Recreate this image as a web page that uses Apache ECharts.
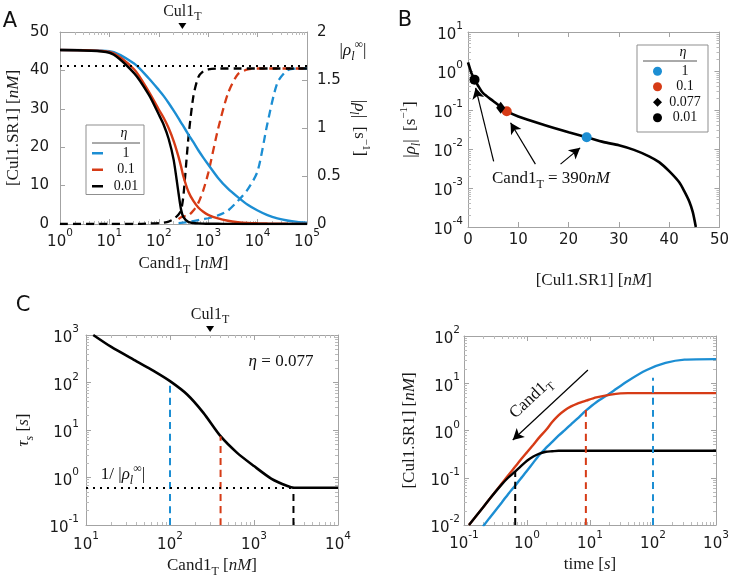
<!DOCTYPE html>
<html>
<head>
<meta charset="utf-8">
<script src="https://cdn.jsdelivr.net/npm/echarts@6.0.0/dist/echarts.min.js"></script>
<style>
  html, body { margin: 0; padding: 0; background: #fff; }
  #chart { width: 732px; height: 582px; }
</style>
</head>
<body>
<div id="chart"></div>
<script>
const BLUE = '#1c8ed3'
const RED = '#d63b16'
const BLACK = '#000000'
const serif = '"Liberation Serif", "DejaVu Serif", serif'
const sans = '"DejaVu Sans", "Noto Sans", sans-serif'

// ---- panel A : steady state vs Cand1T
const candA = [1, 10, 31.6, 63.1, 100, 126, 158, 200, 251, 282, 316, 398, 501, 631, 794, 1000, 1585, 2512, 3981, 6310, 10000, 15849, 25119, 39811, 63096, 100000]
const cul1A_eta1 = [45.3, 45.0, 41.8, 37.9, 34.9, 33.3, 31.5, 29.5, 27.5, 26.4, 25.4, 23.3, 21.3, 19.2, 17.3, 15.5, 12.0, 9.2, 7.0, 5.0, 3.5, 2.3, 1.45, 0.9, 0.55, 0.35]
const cul1A_eta01 = [45.3, 44.8, 40.3, 34.4, 29.8, 27.6, 25.0, 21.6, 17.5, 15.0, 12.3, 8.4, 6.0, 4.3, 3.2, 2.4, 1.45, 0.85, 0.5, 0.3, 0.2, 0.12, 0.08, 0.05, 0.04, 0.03]
const cul1A_eta001 = [45.3, 44.6, 39.3, 33.6, 28.5, 25.8, 22.2, 16.7, 8.0, 3.8, 1.8, 0.5, 0.25, 0.15, 0.1, 0.07, 0.05, 0.03, 0.02, 0.01, 0.01, 0, 0, 0, 0, 0]
const rhoA_eta1 = [null, null, null, null, null, null, null, null, 0.01, 0.012, 0.015, 0.02, 0.03, 0.04, 0.05, 0.06, 0.09, 0.14, 0.24, 0.36, 0.55, 1.05, 1.47, 1.6, 1.62, 1.62]
const rhoA_eta01 = [null, null, null, null, null, null, null, null, 0.05, 0.07, 0.08, 0.09, 0.14, 0.22, 0.35, 0.53, 0.99, 1.36, 1.56, 1.61, 1.62, 1.62, 1.62, 1.62, 1.62, 1.62]
const rhoA_eta001 = [0, 0, 0, 0.005, 0.01, 0.015, 0.025, 0.05, 0.1, 0.14, 0.3, 0.9, 1.33, 1.53, 1.59, 1.61, 1.62, 1.62, 1.62, 1.62, 1.62, 1.62, 1.62, 1.62, 1.62, 1.62]
const rhoInf = 1.645
const cul1Total = 300

// ---- panel B : |rho_l| vs [Cul1.SR1]
const cul1B = [0, 0.3, 0.67, 1.33, 2, 3, 5, 6.5, 7.6, 10, 15, 20, 23.6, 27, 30, 33, 36, 38, 40, 42, 43, 44, 44.7, 45.3]
const rhoB = [1.66, 1.25, 0.89, 0.6, 0.42, 0.27, 0.17, 0.12, 0.095, 0.068, 0.042, 0.027, 0.02, 0.015, 0.0125, 0.0095, 0.0065, 0.0046, 0.0027, 0.0014, 0.00083, 0.00045, 0.00024, 0.0001]
const etaNames = ['1', '0.1', '0.077', '0.01']
const etaCul1 = [23.6, 7.7, 6.5, 1.3]
const etaRho = [0.02, 0.093, 0.115, 0.6]

// ---- panel C : tau_s vs Cand1T (eta = 0.077)
const candC = [12.2, 20, 40, 63, 100, 160, 250, 400, 630, 1000, 1600, 2500, 3000, 10000]
const tauC = [1000, 560, 280, 178, 107, 56, 23, 7.4, 3.3, 1.74, 0.95, 0.66, 0.61, 0.61]
const tauInf = 0.61
const candMarkC = [100, 400, 2950]
const tauMarkC = [107, 7.4, 0.61]

// ---- panel D : time courses
const timeD = [0.12, 0.2, 0.251, 0.398, 0.501, 0.646, 0.794, 1, 1.26, 1.58, 2.0, 2.51, 3.16, 3.98, 5.01, 6.31, 8.6, 12.6, 21.4, 39.8, 79.4, 158, 316, 1000]
const cul1D_blue = [null, 0.0093, 0.0138, 0.030, 0.045, 0.068, 0.095, 0.141, 0.209, 0.309, 0.427, 0.575, 0.776, 1.02, 1.35, 1.78, 2.63, 3.98, 6.3, 11.2, 19.1, 26.9, 31.6, 32.4]
const cul1D_red = [0.01, 0.0234, 0.0347, 0.0759, 0.112, 0.170, 0.240, 0.347, 0.501, 0.724, 1.02, 1.51, 2.09, 2.69, 3.24, 3.72, 4.27, 5.01, 5.75, 6.17, 6.17, 6.17, 6.17, 6.17]
const cul1D_black = [0.01, 0.0234, 0.0347, 0.0724, 0.1, 0.135, 0.174, 0.229, 0.282, 0.324, 0.355, 0.363, 0.372, 0.372, 0.372, 0.372, 0.372, 0.372, 0.372, 0.372, 0.372, 0.372, 0.372, 0.372]
const timeMarkD = [0.65, 8.6, 100]
const cul1MarkD = [0.135, 2.7, 13]

const pts = (xs, ys) => xs.map((x, i) => [x, ys[i]])

const mk = (fam, size, extra) => Object.assign({fontFamily: fam, fontSize: size, color: '#1a1a1a'}, extra || {})
const nameRich = {
  sub: mk(serif, 12, {lineHeight: 12, verticalAlign: 'bottom'}),
  isub: mk(serif, 12, {lineHeight: 12, verticalAlign: 'bottom', fontStyle: 'italic'}),
  sup: mk(serif, 11, {lineHeight: 12, verticalAlign: 'top'}),
  i: mk(serif, 17, {fontStyle: 'italic'})
}
const tickRich = {
  b: mk(sans, 15, {lineHeight: 22, verticalAlign: 'bottom'}),
  s: mk(sans, 10.5, {lineHeight: 10, verticalAlign: 'top'})
}
const logFmt = v => '{b|10}{s|' + Math.round(Math.log10(v)) + '}'

const axis = (o) => {
  const isLog = o.type === 'log'
  const a = {
    gridIndex: o.grid, type: o.type || 'value', position: o.pos,
    min: o.min, max: o.max,
    axisLine: {show: true, onZero: false, lineStyle: {color: '#a3a3a3', width: 1}},
    axisTick: {show: true, inside: true, length: 5, lineStyle: {color: '#a3a3a3'}},
    minorTick: {show: isLog, splitNumber: 9, length: 3, lineStyle: {color: '#bbbbbb'}},
    splitLine: {show: false},
    minorSplitLine: {show: false},
    axisLabel: {show: !!o.labels, margin: o.margin == null ? 6 : o.margin, color: '#1a1a1a', fontFamily: sans, fontSize: 15, rich: tickRich},
    silent: true
  }
  if (isLog) a.axisLabel.formatter = logFmt
  if (o.interval) a.interval = o.interval
  if (o.split) a.splitNumber = o.split
  if (o.name) {
    a.name = o.name
    a.nameLocation = 'middle'
    a.nameGap = o.gap
    a.nameRotate = o.rotate || 0
    a.nameTextStyle = {color: '#1a1a1a', fontFamily: serif, fontSize: 17, lineHeight: 24, rich: nameRich}
  }
  return a
}

const rhoName = '|{i|ρ}{isub|l}|  [s{sup|−1}]'
const cul1Name = '[Cul1.SR1] [{i|nM}]'
const candName = 'Cand1{sub|T} [{i|nM}]'

const xAxes = [
  axis({grid: 0, type: 'log', pos: 'bottom', min: 1, max: 1e5, split: 5, labels: true, margin: 4, name: candName, gap: 28}),
  axis({grid: 0, type: 'log', pos: 'top', min: 1, max: 1e5, split: 5}),
  axis({grid: 1, pos: 'bottom', min: 0, max: 50, interval: 10, labels: true, margin: 6, name: cul1Name, gap: 42}),
  axis({grid: 1, pos: 'top', min: 0, max: 50, interval: 10}),
  axis({grid: 2, type: 'log', pos: 'bottom', min: 10, max: 1e4, split: 3, labels: true, margin: 6, name: candName, gap: 24}),
  axis({grid: 2, type: 'log', pos: 'top', min: 10, max: 1e4, split: 3}),
  axis({grid: 3, type: 'log', pos: 'bottom', min: 0.1, max: 1000, split: 4, labels: true, margin: 5, name: 'time [{i|s}]', gap: 24}),
  axis({grid: 3, type: 'log', pos: 'top', min: 0.1, max: 1000, split: 4})
]
const yAxes = [
  axis({grid: 0, pos: 'left', min: 0, max: 50, interval: 10, labels: true, margin: 11, name: cul1Name, gap: 34, rotate: 90}),
  axis({grid: 0, pos: 'right', min: 0, max: 2, interval: 0.5, labels: true, margin: 10, name: rhoName, gap: 40, rotate: -90}),
  axis({grid: 1, type: 'log', pos: 'left', min: 1e-4, max: 10, split: 5, labels: true, margin: 5, name: rhoName, gap: 45, rotate: 90}),
  axis({grid: 1, type: 'log', pos: 'right', min: 1e-4, max: 10, split: 5}),
  axis({grid: 2, type: 'log', pos: 'left', min: 0.1, max: 1000, split: 4, labels: true, margin: 7, name: '{i|τ}{isub|s} [{i|s}]', gap: 50, rotate: 90}),
  axis({grid: 2, type: 'log', pos: 'right', min: 0.1, max: 1000, split: 4}),
  axis({grid: 3, type: 'log', pos: 'left', min: 0.01, max: 100, split: 4, labels: true, margin: 4, name: cul1Name, gap: 42, rotate: 90}),
  axis({grid: 3, type: 'log', pos: 'right', min: 0.01, max: 100, split: 4})
]

const curve = (name, xi, yi, data, color, width, dash) => ({
  name, type: 'line', xAxisIndex: xi, yAxisIndex: yi, data,
  symbol: 'none', smooth: 0.25, silent: true,
  lineStyle: {color, width, type: dash || 'solid'}, itemStyle: {color}
})

const arrowLine = (from, to) => [{coord: from}, {coord: to}]
const annot = (xi, yi, extra) => Object.assign({
  type: 'line', xAxisIndex: xi, yAxisIndex: yi, data: [], clip: false, silent: true
}, extra)
const arrowStyle = {symbol: ['none', 'arrow'], symbolSize: [9, 11], silent: true, label: {show: false},
  lineStyle: {color: '#000', width: 1.2, type: 'solid'}, emphasis: {disabled: true}}

const cul1Marker = (xv, yv) => ({
  symbol: 'none', silent: true,
  data: [{coord: [xv, yv], symbol: 'triangle', symbolRotate: 180, symbolSize: [8, 6], symbolOffset: [0, -6],
    itemStyle: {color: '#000'},
    label: {show: true, position: 'top', distance: 0, formatter: 'Cul1{sub|T}', color: '#1a1a1a',
      fontFamily: serif, fontSize: 16, lineHeight: 22, rich: nameRich}}]
})

const series = [
  // A dashed (right axis)
  curve('A:1d', 0, 1, pts(candA, rhoA_eta1), BLUE, 2.3, [8, 5]),
  curve('A:0.1d', 0, 1, pts(candA, rhoA_eta01), RED, 2.3, [8, 5]),
  Object.assign(curve('A:0.01d', 0, 1, pts(candA, rhoA_eta001), BLACK, 2.3, [8, 5]), {
    markLine: {symbol: 'none', silent: true, label: {show: false}, data: [{yAxis: rhoInf}],
      lineStyle: {color: '#000', width: 2, type: [2, 5]}}
  }),
  // A solid (left axis)
  curve('A:1', 0, 0, pts(candA, cul1A_eta1), BLUE, 2.4),
  curve('A:0.1', 0, 0, pts(candA, cul1A_eta01), RED, 2.4),
  curve('A:0.01', 0, 0, pts(candA, cul1A_eta001), BLACK, 2.4),
  annot(0, 0, {
    markPoint: cul1Marker(cul1Total, 50),
    markLine: Object.assign({data: [arrowLine([340000, 44.8], [125000, 41.9])]}, arrowStyle)
  }),
  // B
  curve('B:curve', 2, 2, pts(cul1B, rhoB), BLACK, 2.6),
  annot(2, 2, {
    markLine: Object.assign({data: [
      arrowLine([5.1, 0.0048], [1.52, 0.37]),
      arrowLine([13.4, 0.0041], [8.46, 0.047]),
      arrowLine([18.4, 0.0041], [22.3, 0.0107])
    ]}, arrowStyle)
  })
]
const etaColors = [BLUE, RED, BLACK, BLACK]
const etaSymbols = ['circle', 'circle', 'diamond', 'circle']
const etaSizes = [10, 10, [9, 12], 10]
etaNames.forEach((n, i) => {
  series.push({
    name: 'B:' + n, type: 'scatter', xAxisIndex: 2, yAxisIndex: 2, silent: true,
    data: [[etaCul1[i], etaRho[i]]], symbol: etaSymbols[i], symbolSize: etaSizes[i],
    itemStyle: {color: etaColors[i], opacity: 1}, z: 5
  })
})
// C
series.push(Object.assign(curve('C:tau', 4, 4, pts(candC, tauC), BLACK, 2.6), {
  markLine: {symbol: 'none', silent: true, label: {show: false}, data: [{yAxis: tauInf}],
    lineStyle: {color: '#000', width: 2, type: [2, 5]}}
}))
const markColors = [BLUE, RED, BLACK]
candMarkC.forEach((c, i) => {
  series.push(curve('C:mark' + i, 4, 4, [[c, 0.1], [c, tauMarkC[i]]], markColors[i], 2, [7, 5]))
})
series.push(annot(4, 4, {markPoint: cul1Marker(cul1Total, 1000)}))
// D
series.push(curve('D:1', 6, 6, pts(timeD, cul1D_blue), BLUE, 2.4))
series.push(curve('D:0.1', 6, 6, pts(timeD, cul1D_red), RED, 2.4))
series.push(curve('D:0.01', 6, 6, pts(timeD, cul1D_black), BLACK, 2.4))
timeMarkD.forEach((t, i) => {
  series.push(curve('D:mark' + i, 6, 6, [[t, 0.01], [t, cul1MarkD[i]]], markColors[2 - i], 2, [7, 5]))
})
series.push(annot(6, 6, {
  markLine: Object.assign({data: [arrowLine([9.27, 19.1], [0.594, 0.63])]}, arrowStyle)
}))

const legendText = {
  fontFamily: serif, fontSize: 14, color: '#111', lineHeight: 14.5,
  rich: {c: {width: 36, align: 'center', fontFamily: serif, fontSize: 14, color: '#111', lineHeight: 14.5}}
}
const legends = [
  {
    left: 86, top: 125, orient: 'vertical', selectedMode: false,
    data: ['A:1', 'A:0.1', 'A:0.01'].map(n => ({name: n, icon: 'rect'})),
    formatter: n => '{c|' + n.split(':')[1] + '}',
    itemWidth: 11, itemHeight: 2.5, itemGap: 2, padding: [21, 0, 1, 6],
    borderColor: '#8f8f8f', borderWidth: 1, textStyle: legendText
  },
  {
    left: 637, top: 45, orient: 'vertical', selectedMode: false,
    data: etaNames.map(n => 'B:' + n),
    formatter: n => '{c|' + n.split(':')[1] + '}',
    itemWidth: 9, itemHeight: 9, itemGap: 1, padding: [19, 5, 7, 16],
    borderColor: '#8f8f8f', borderWidth: 1, textStyle: Object.assign({}, legendText, {lineHeight: 14})
  }
]

const gRich = {
  sub: {fontFamily: serif, fontSize: 12, lineHeight: 12, verticalAlign: 'bottom', fill: '#111'},
  isub: {fontFamily: serif, fontSize: 12, lineHeight: 12, verticalAlign: 'bottom', fontStyle: 'italic', fill: '#111'},
  sup: {fontFamily: serif, fontSize: 12, lineHeight: 12, verticalAlign: 'top', fill: '#111'},
  i: {fontFamily: serif, fontSize: 17, fontStyle: 'italic', fill: '#111'},
  ih: {fontFamily: serif, fontSize: 14, fontStyle: 'italic', fill: '#111'}
}
const txt = (x, y, text, size, fam, extra) => Object.assign({
  type: 'text', x, y, silent: true, z: 50,
  style: {text, fontSize: size, fontFamily: fam, fill: '#111', lineHeight: 24,
    textAlign: 'center', textVerticalAlign: 'middle', align: 'center', verticalAlign: 'middle', rich: gRich}
}, extra || {})
const hline = (x1, x2, y) => ({type: 'line', silent: true, z: 50, shape: {x1, y1: y, x2, y2: y}, style: {stroke: '#555', lineWidth: 1}})

const graphics = [
  txt(10, 22, 'A', 21, sans),
  txt(405, 21, 'B', 21, sans),
  txt(23, 306, 'C', 21, sans),
  txt(124, 133, '{ih|η}', 14, serif),
  hline(92, 140, 143),
  txt(683, 52, '{ih|η}', 14, serif),
  hline(643, 697, 61),
  txt(353, 51, '|{i|ρ}{isub|l}{sup|∞}|', 17, serif),
  txt(551, 179, 'Cand1{sub|T} = 390{i|nM}', 17, serif),
  txt(281, 362, '{i|η} = 0.077', 17, serif),
  txt(123, 475, '1/ |{i|ρ}{isub|l}{sup|∞}|', 17, serif),
  txt(531, 398, 'Cand1{sub|T}', 17, serif, {rotation: 43 * Math.PI / 180})
]

const chart = echarts.init(document.getElementById('chart'))
chart.setOption({
  animation: false,
  backgroundColor: '#fff',
  grid: [
    {left: 60, top: 32, width: 247, height: 192},
    {left: 468, top: 32, width: 253, height: 195},
    {left: 86, top: 335, width: 252, height: 190},
    {left: 464, top: 336, width: 252, height: 189}
  ],
  xAxis: xAxes,
  yAxis: yAxes,
  legend: legends,
  series: series,
  graphic: graphics
})
</script>
</body>
</html>
